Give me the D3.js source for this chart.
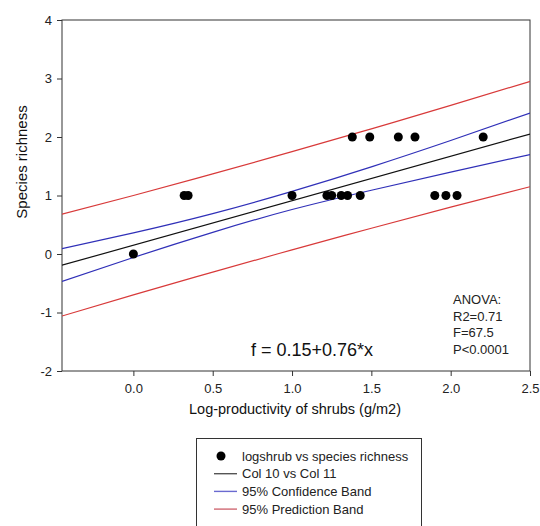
<!DOCTYPE html>
<html>
<head>
<meta charset="utf-8">
<script src="https://cdn.jsdelivr.net/npm/d3@7"></script>
<style>
  html, body { margin: 0; padding: 0; background: #fff; }
  svg { display: block; font-family: "Liberation Sans", Arial, sans-serif; }
</style>
</head>
<body>
<svg id="chart" width="540" height="526"></svg>
<script>
// Observations: log shrub productivity vs. species richness
const logShrub = [0, 0.32, 0.345, 1.0, 1.22, 1.25, 1.31, 1.35, 1.43, 1.90, 1.97, 2.04, 1.38, 1.49, 1.67, 1.775, 2.205];
const richness = [0, 1, 1, 1, 1, 1, 1, 1, 1, 1, 1, 1, 2, 2, 2, 2, 2];

// Fitted line f = b0 + b1*x
const intercept = 0.15;
const slope = 0.76;

// Band values sampled along x
const bandX = [-0.45, 0, 0.5, 1.0, 1.5, 2.0, 2.5];
const confUpper = [0.09, 0.36, 0.69, 1.07, 1.49, 1.94, 2.41];
const confLower = [-0.47, -0.06, 0.37, 0.76, 1.09, 1.40, 1.70];
const predUpper = [0.68, 1.00, 1.37, 1.75, 2.14, 2.54, 2.95];
const predLower = [-1.06, -0.70, -0.31, 0.07, 0.44, 0.80, 1.15];

const xTicks = [0, 0.5, 1.0, 1.5, 2.0, 2.5];
const yTicks = [-2, -1, 0, 1, 2, 3, 4];

const anovaLines = ["ANOVA:", "R2=0.71", "F=67.5", "P<0.0001"];
const legendLabels = ["logshrub vs species richness", "Col 10 vs Col 11", "95% Confidence Band", "95% Prediction Band"];

const RED = "#d83a3a", BLUE = "#3030b8", BLACK = "#111";

const svg = d3.select("#chart");
const L = 62, R = 530, T = 20, B = 371;

const x = d3.scaleLinear().domain([-0.45, 2.5]).range([L, R]);
const y = d3.scaleLinear().domain([-2, 4]).range([B, T]);

// Axes
const xAxis = svg.append("g").attr("transform", `translate(0,${B})`)
  .call(d3.axisBottom(x).tickValues(xTicks).tickFormat(d3.format(".1f")).tickSize(5).tickPadding(8));
const yAxis = svg.append("g").attr("transform", `translate(${L},0)`)
  .call(d3.axisLeft(y).tickValues(yTicks).tickFormat(d => String(d)).tickSize(5).tickPadding(5));
[xAxis, yAxis].forEach(g => {
  g.select(".domain").remove();
  g.selectAll("line").attr("stroke", "#333");
  g.selectAll("text").attr("font-size", 13).attr("fill", "#222")
    .attr("font-family", "'Liberation Sans', Arial, sans-serif");
});

// Plot frame
svg.append("rect").attr("x", L).attr("y", T).attr("width", R - L).attr("height", B - T)
  .attr("fill", "none").attr("stroke", "#333").attr("stroke-width", 1);

const clip = svg.append("clipPath").attr("id", "plotclip")
  .append("rect").attr("x", L).attr("y", T).attr("width", R - L).attr("height", B - T);
const plot = svg.append("g").attr("clip-path", "url(#plotclip)");

const band = vals => d3.line().curve(d3.curveNatural)
  .x((d, i) => x(bandX[i])).y(d => y(d))(vals);

[[predUpper, RED], [predLower, RED], [confUpper, BLUE], [confLower, BLUE]].forEach(([vals, c]) => {
  plot.append("path").attr("d", band(vals)).attr("fill", "none").attr("stroke", c).attr("stroke-width", 1.2);
});

// Regression line
const xd = x.domain();
plot.append("line")
  .attr("x1", x(xd[0])).attr("y1", y(intercept + slope * xd[0]))
  .attr("x2", x(xd[1])).attr("y2", y(intercept + slope * xd[1]))
  .attr("stroke", BLACK).attr("stroke-width", 1.2);

// Observations
plot.selectAll("circle.obs").data(logShrub).join("circle").attr("class", "obs")
  .attr("cx", d => x(d)).attr("cy", (d, i) => y(richness[i])).attr("r", 4.5).attr("fill", "#000");

// Equation and ANOVA summary
svg.append("text").attr("x", 312).attr("y", 356).attr("text-anchor", "middle")
  .attr("font-size", 18).attr("fill", "#111").text(`f = ${intercept}+${slope}*x`);
svg.append("g").selectAll("text").data(anovaLines).join("text")
  .attr("x", 453).attr("y", (d, i) => 304 + i * 16.7).attr("font-size", 13).attr("fill", "#222").text(d => d);

// Axis titles
svg.append("text").attr("x", 295).attr("y", 414).attr("text-anchor", "middle")
  .attr("font-size", 14.5).attr("fill", "#111").text("Log-productivity of shrubs (g/m2)");
svg.append("text").attr("transform", "translate(27,162) rotate(-90)").attr("text-anchor", "middle")
  .attr("font-size", 15).attr("fill", "#111").text("Species richness");

// Legend
const lg = svg.append("g");
lg.append("rect").attr("x", 196.5).attr("y", 438.5).attr("width", 225).attr("height", 100)
  .attr("fill", "#fff").attr("stroke", "#333");
const rowY = i => 456 + i * 17.7;
lg.append("circle").attr("cx", 221).attr("cy", rowY(0)).attr("r", 4.5).attr("fill", "#000");
[[1, "#555"], [2, "#6a6ad0"], [3, "#d06a74"]].forEach(([i, c]) => {
  lg.append("line").attr("x1", 214).attr("x2", 237).attr("y1", rowY(i)).attr("y2", rowY(i))
    .attr("stroke", c).attr("stroke-width", 1.4);
});
lg.selectAll("text").data(legendLabels).join("text")
  .attr("x", 242).attr("y", (d, i) => rowY(i) + 4.5).attr("font-size", 13).attr("fill", "#222").text(d => d);
</script>
</body>
</html>
